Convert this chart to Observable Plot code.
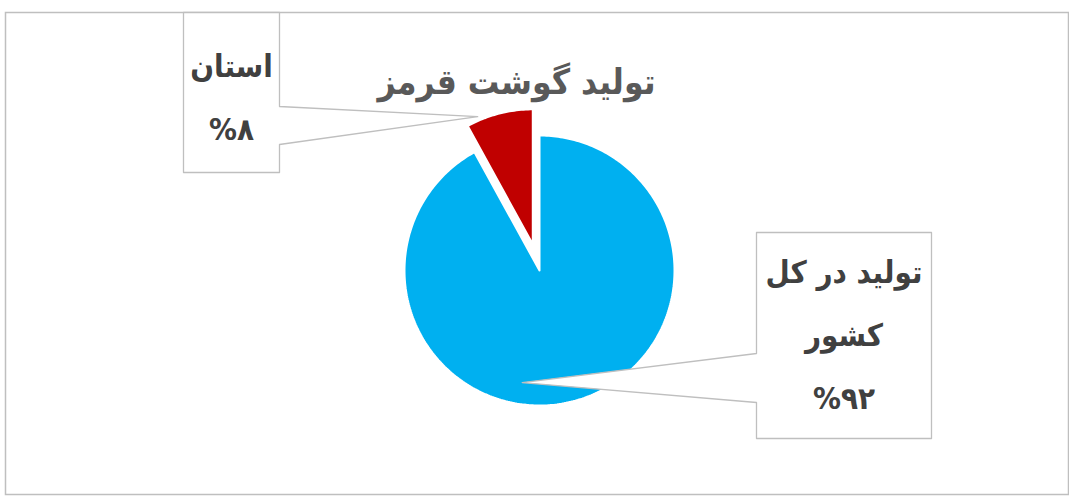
<!DOCTYPE html>
<html><head><meta charset="utf-8">
<script src="https://cdn.jsdelivr.net/npm/d3@7"></script>
<script src="https://cdn.jsdelivr.net/npm/@observablehq/plot@0.6"></script>
<style>body{margin:0;background:#fff}</style>
</head><body><div id="chart"></div>
<script>
// ---- data ----
const title = "تولید گوشت قرمز";
const categories = ["تولید در کل کشور", "استان"];
const values = [92, 8];
const labelLines = [["تولید در کل", "کشور"], ["استان"]];
const colors = ["#00B0F0", "#C00000"];

// ---- layout ----
const W = 1069, H = 497;
const cx = 539, cy = 270, R = 135;
const explode = [0, 27];
const boxes = [
  {x1: 756, y1: 232, x2: 931, y2: 438, side: "left", b1: 353, b2: 402, tipFrac: 0.57, tipR: 0.84, textY: 273},
  {x1: 183, y1: 12, x2: 279, y2: 172, side: "right", b1: 106, b2: 144, tipFrac: 0.19, tipR: 1.03, textY: 67}
];
const lineGap = 63;
const font = "DejaVu Sans Condensed, DejaVu Sans, sans-serif";

const toFa = s => String(s).replace(/\d/g, d => "۰۱۲۳۴۵۶۷۸۹"[d]);
const total = d3.sum(values);
const arcs = d3.pie().sort(null).value(d => d)(values);

const pt = (ox, oy, a, r) => [ox + r * Math.sin(a), oy - r * Math.cos(a)];

const sliceMarks = [], calloutMarks = [], textRows = [];
arcs.forEach((a, i) => {
  const mid = (a.startAngle + a.endAngle) / 2;
  const [ox, oy] = pt(cx, cy, mid, explode[i]);
  const poly = [{x: ox, y: oy}];
  const n = Math.max(2, Math.ceil((a.endAngle - a.startAngle) / (Math.PI / 180)));
  for (let k = 0; k <= n; k++) {
    const ang = a.startAngle + (a.endAngle - a.startAngle) * k / n;
    const [x, y] = pt(ox, oy, ang, R);
    poly.push({x, y});
  }
  poly.push({x: ox, y: oy});
  sliceMarks.push(Plot.line(poly, {x: "x", y: "y", fill: colors[i], stroke: "#fff", strokeWidth: 2, strokeLinejoin: "miter"}));

  const b = boxes[i];
  const tipAng = a.startAngle + (a.endAngle - a.startAngle) * b.tipFrac;
  const [tx, ty] = pt(ox, oy, tipAng, R * b.tipR);
  let cp;
  if (b.side === "left") {
    cp = [[b.x1, b.y1], [b.x2, b.y1], [b.x2, b.y2], [b.x1, b.y2], [b.x1, b.b2], [tx, ty], [b.x1, b.b1], [b.x1, b.y1]];
  } else {
    cp = [[b.x1, b.y1], [b.x2, b.y1], [b.x2, b.b1], [tx, ty], [b.x2, b.b2], [b.x2, b.y2], [b.x1, b.y2], [b.x1, b.y1]];
  }
  calloutMarks.push(Plot.line(cp.map(([x, y]) => ({x, y})), {x: "x", y: "y", fill: "#fff", stroke: "#BFBFBF", strokeWidth: 1.3}));

  const lines = [...labelLines[i], "%" + toFa(Math.round(values[i] / total * 100))];
  lines.forEach((t, j) => textRows.push({x: (b.x1 + b.x2) / 2, y: b.textY + j * lineGap, t}));
});

const chart = Plot.plot({
  width: W, height: H,
  margin: 0,
  x: {type: "identity", axis: null},
  y: {type: "identity", axis: null},
  style: {background: "#fff"},
  marks: [
    Plot.frame({stroke: "#BFBFBF", strokeWidth: 1.5, insetLeft: 5, insetTop: 12, insetRight: 1, insetBottom: 3}),
    ...sliceMarks,
    ...calloutMarks,
    Plot.text([title], {x: 516, y: 82, text: d => d, fontSize: 35, fontWeight: "bold", fill: "#595959", fontFamily: font}),
    Plot.text(textRows, {x: "x", y: "y", text: "t", fontSize: 31, fontWeight: "bold", fill: "#404040", fontFamily: font})
  ]
});
document.getElementById("chart").appendChild(chart);
</script>
</body></html>
